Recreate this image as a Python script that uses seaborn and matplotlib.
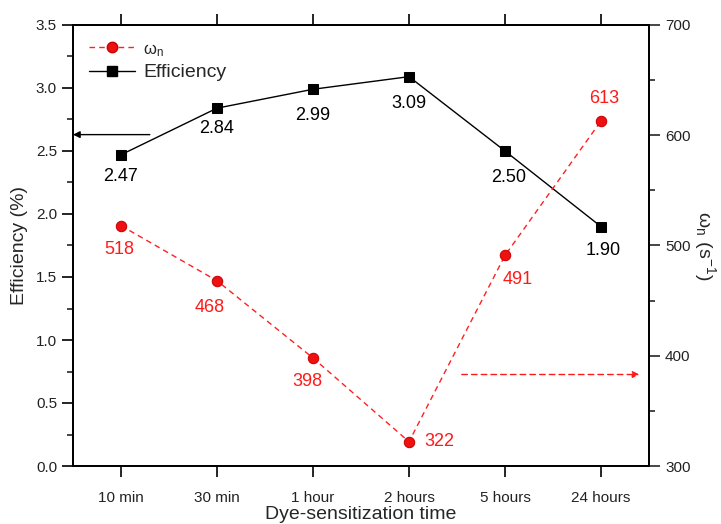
import matplotlib
matplotlib.use("Agg")
import matplotlib.pyplot as plt
from matplotlib.ticker import MultipleLocator, FormatStrFormatter
from matplotlib.lines import Line2D
import seaborn as sns

times = ["10 min", "30 min", "1 hour", "2 hours", "5 hours", "24 hours"]
efficiency = [2.47, 2.84, 2.99, 3.09, 2.50, 1.90]
omega_n = [518, 468, 398, 322, 491, 613]

# label offsets in pixels (dx, dy) relative to each point
eff_offsets = [(0, -22), (0, -20), (0, -26), (0, -27), (4, -27), (2, -24)]
omega_offsets = [(-2, -24), (-7, -27), (-6, -24), (30, 0), (13, -24), (3, 22)]

sns.set_theme(style="ticks")
plt.rcParams["font.family"] = ["Liberation Sans", "DejaVu Sans"]
plt.rcParams["mathtext.fontset"] = "custom"
plt.rcParams["mathtext.rm"] = "Liberation Sans"

fig = plt.figure(figsize=(7.21, 5.24), dpi=100)
ax = fig.add_axes([73 / 721, 1 - 466 / 524, (649 - 73) / 721, (466 - 25) / 524])
ax2 = ax.twinx()

sns.lineplot(x=times, y=efficiency, ax=ax, color="black", lw=1.0,
             marker="s", markersize=7, markeredgecolor="black", sort=False)
sns.lineplot(x=times, y=omega_n, ax=ax2, color="#ff2020", lw=1.0,
             marker="o", markersize=7.5,
             markerfacecolor="#ee1111", markeredgecolor="#cc0000", sort=False)
ax2.lines[0].set_dashes([4, 3])

ax.set_xlim(-0.5, 5.5)
ax.set_ylim(0, 3.5)
ax2.set_ylim(300, 700)

for x, y, (dx, dy) in zip(range(len(times)), efficiency, eff_offsets):
    ax.annotate(f"{y:.2f}", (x, y), xytext=(dx, dy), textcoords="offset pixels",
                ha="center", va="center", fontsize=13, color="black")
for x, y, (dx, dy) in zip(range(len(times)), omega_n, omega_offsets):
    ax2.annotate(f"{y}", (x, y), xytext=(dx, dy), textcoords="offset pixels",
                 ha="center", va="center", fontsize=13, color="#ff1a1a")

# arrows pointing to each axis
ax.annotate("", xy=(-0.5, 2.63), xytext=(0.3, 2.63),
            arrowprops=dict(arrowstyle="-|>", color="black", lw=1.0,
                            mutation_scale=10, shrinkA=0, shrinkB=0))
ax2.annotate("", xy=(5.4, 383), xytext=(3.55, 383),
             arrowprops=dict(arrowstyle="-|>", color="#ff1a1a", lw=1.0,
                             linestyle=(0, (4, 3)), mutation_scale=10,
                             shrinkA=0, shrinkB=0))

for a in (ax, ax2):
    for s in a.spines.values():
        s.set_visible(True)
        s.set_linewidth(1.3)
        s.set_color("black")

ax.yaxis.set_major_locator(MultipleLocator(0.5))
ax.yaxis.set_minor_locator(MultipleLocator(0.25))
ax.yaxis.set_major_formatter(FormatStrFormatter("%.1f"))
ax2.yaxis.set_major_locator(MultipleLocator(100))
ax2.yaxis.set_minor_locator(MultipleLocator(50))

ax.set_xticks(range(len(times)))
ax.set_xticklabels(times)
ax.tick_params(axis="both", which="major", direction="out", length=8, width=1.2,
               labelsize=11, colors="black", labelcolor="#222222")
ax.tick_params(axis="y", which="minor", direction="out", length=4, width=1.2)
ax.tick_params(axis="x", top=True, labeltop=False, pad=10)
ax.tick_params(axis="x", which="minor", bottom=False, top=False)
ax2.tick_params(axis="y", which="major", direction="out", length=8, width=1.2,
                labelsize=11, labelcolor="#222222")
ax2.tick_params(axis="y", which="minor", direction="out", length=4, width=1.2)

ax.set_xlabel("Dye-sensitization time", fontsize=14, labelpad=1)
ax.set_ylabel("Efficiency (%)", fontsize=14, labelpad=6)
ax2.set_ylabel(r"$\mathregular{\omega_n\ (s^{-1})}$", fontsize=14,
               rotation=270, labelpad=20)

handles = [
    Line2D([], [], color="#ff2020", lw=1.0, dashes=[4, 3], marker="o",
           markersize=7.5, markerfacecolor="#ee1111", markeredgecolor="#cc0000"),
    Line2D([], [], color="black", lw=1.0, marker="s", markersize=7),
]
leg = ax.legend(handles, [r"$\mathregular{\omega_n}$", "Efficiency"],
                loc="upper left", frameon=False, fontsize=14,
                handlelength=2.4, handletextpad=0.4, labelspacing=0.25,
                borderaxespad=0.4, bbox_to_anchor=(0.0, 1.0))
leg.get_texts()[0].set_fontsize(12)

fig.savefig("out.png", dpi=100)
